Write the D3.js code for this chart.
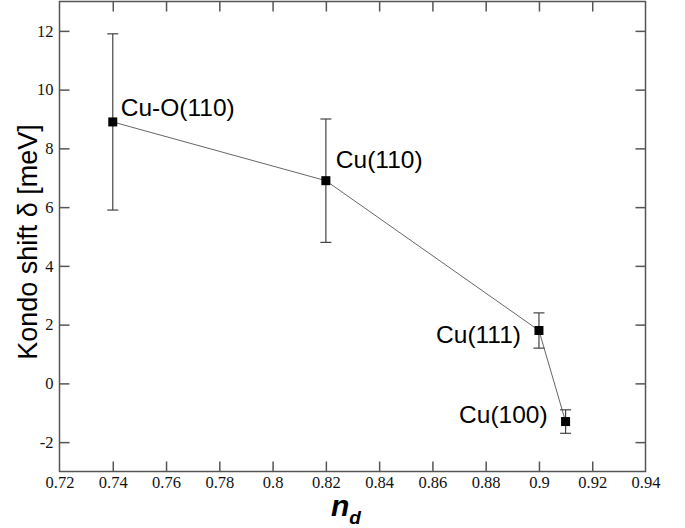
<!DOCTYPE html>
<html>
<head>
<meta charset="utf-8">
<script src="https://cdn.jsdelivr.net/npm/d3@7"></script>
<style>
  body { margin: 0; background: #fff; }
  svg { display: block; }
</style>
</head>
<body>
<script>
// Kondo shift vs n_d
var names = ["Cu-O(110)", "Cu(110)", "Cu(111)", "Cu(100)"];
var nd = [0.74, 0.82, 0.90, 0.91];
var shift = [8.9, 6.9, 1.8, -1.3];
var err = [3.0, 2.1, 0.6, 0.4];
var xTicks = [0.72, 0.74, 0.76, 0.78, 0.8, 0.82, 0.84, 0.86, 0.88, 0.9, 0.92, 0.94];
var yTicks = [-2, 0, 2, 4, 6, 8, 10, 12];

var W = 685, H = 528;
// plot box (note: "top" is reserved on window, so keep it in an object)
var box = { left: 59.5, right: 645.5, top: 1.5, bottom: 471.5 };

var svg = d3.select("body").append("svg")
    .attr("width", W)
    .attr("height", H);

var x = d3.scaleLinear().domain([0.72, 0.94]).range([box.left, box.right]);
var y = d3.scaleLinear().domain([-3, 13]).range([box.bottom, box.top]);

var axisColor = "#555";
var tickLen = 10;
var plain = function(d) { return String(d); }; // hyphen minus like the original

// frame
svg.append("rect")
    .attr("x", box.left).attr("y", box.top)
    .attr("width", box.right - box.left).attr("height", box.bottom - box.top)
    .attr("fill", "none").attr("stroke", axisColor).attr("stroke-width", 1.5);

// axes with inward ticks
var bottomAxis = svg.append("g").attr("transform", "translate(0," + box.bottom + ")")
    .call(d3.axisBottom(x).tickValues(xTicks).tickSizeInner(-tickLen).tickSizeOuter(0)
        .tickPadding(5).tickFormat(plain));
var topAxis = svg.append("g").attr("transform", "translate(0," + box.top + ")")
    .call(d3.axisTop(x).tickValues(xTicks.slice(1, -1)).tickSizeInner(-tickLen).tickSizeOuter(0).tickFormat(""));
var leftAxis = svg.append("g").attr("transform", "translate(" + box.left + ",0)")
    .call(d3.axisLeft(y).tickValues(yTicks).tickSizeInner(-tickLen).tickSizeOuter(0)
        .tickPadding(6).tickFormat(plain));
var rightAxis = svg.append("g").attr("transform", "translate(" + box.right + ",0)")
    .call(d3.axisRight(y).tickValues(yTicks).tickSizeInner(-tickLen).tickSizeOuter(0).tickFormat(""));

svg.selectAll(".domain").remove();
svg.selectAll(".tick line").attr("stroke", axisColor).attr("stroke-width", 1.5);
// keep edge ticks off the frame corners
bottomAxis.selectAll(".tick line").filter(function(d) { return d === 0.72 || d === 0.94; }).remove();
svg.selectAll(".tick text")
    .attr("fill", "#111")
    .style("font-family", "'Liberation Serif', 'Times New Roman', serif")
    .style("font-size", "16.5px");
bottomAxis.selectAll(".tick text").attr("y", 5).attr("dy", "0.71em");
leftAxis.selectAll(".tick text").attr("x", -6);

// connecting line
var line = d3.line()
    .x(function(d, i) { return x(nd[i]); })
    .y(function(d) { return y(d); });
svg.append("path")
    .datum(shift)
    .attr("d", line)
    .attr("fill", "none")
    .attr("stroke", "#666")
    .attr("stroke-width", 1);

// error bars
var capW = 5.5;
var eb = svg.selectAll(".eb").data(shift).enter().append("g").attr("class", "eb")
    .attr("stroke", "#444").attr("stroke-width", 1.2);
eb.append("line")
    .attr("x1", function(d, i) { return x(nd[i]); })
    .attr("x2", function(d, i) { return x(nd[i]); })
    .attr("y1", function(d, i) { return y(d + err[i]); })
    .attr("y2", function(d, i) { return y(d - err[i]); });
eb.append("line")
    .attr("x1", function(d, i) { return x(nd[i]) - capW; })
    .attr("x2", function(d, i) { return x(nd[i]) + capW; })
    .attr("y1", function(d, i) { return y(d + err[i]); })
    .attr("y2", function(d, i) { return y(d + err[i]); });
eb.append("line")
    .attr("x1", function(d, i) { return x(nd[i]) - capW; })
    .attr("x2", function(d, i) { return x(nd[i]) + capW; })
    .attr("y1", function(d, i) { return y(d - err[i]); })
    .attr("y2", function(d, i) { return y(d - err[i]); });

// markers
var sq = 9;
svg.selectAll(".pt").data(shift).enter().append("rect")
    .attr("x", function(d, i) { return x(nd[i]) - sq / 2; })
    .attr("y", function(d) { return y(d) - sq / 2; })
    .attr("width", sq).attr("height", sq)
    .attr("fill", "#000");

// point labels (offsets relative to the point)
var labelDx = [8, 10, -18, -18];
var labelDy = [-6, -12.5, 12.5, 1.5];
var labelAnchor = ["start", "start", "end", "end"];
svg.selectAll(".lbl").data(names).enter().append("text")
    .attr("x", function(d, i) { return x(nd[i]) + labelDx[i]; })
    .attr("y", function(d, i) { return y(shift[i]) + labelDy[i]; })
    .attr("text-anchor", function(d, i) { return labelAnchor[i]; })
    .style("font-family", "'Liberation Sans', Arial, sans-serif")
    .style("font-size", "24.5px")
    .attr("fill", "#000")
    .text(function(d) { return d; });

// axis titles
svg.append("text")
    .attr("transform", "translate(37,242) rotate(-90)")
    .attr("text-anchor", "middle")
    .style("font-family", "'Liberation Sans', Arial, sans-serif")
    .style("font-size", "27px")
    .text("Kondo shift δ [meV]");

var xt = svg.append("text")
    .attr("x", 331)
    .attr("y", 516)
    .style("font-family", "'Liberation Sans', Arial, sans-serif")
    .style("font-style", "italic")
    .style("font-weight", "bold")
    .style("font-size", "30px");
xt.append("tspan").text("n");
xt.append("tspan").attr("dy", 8).style("font-size", "19px").text("d");
</script>
</body>
</html>
